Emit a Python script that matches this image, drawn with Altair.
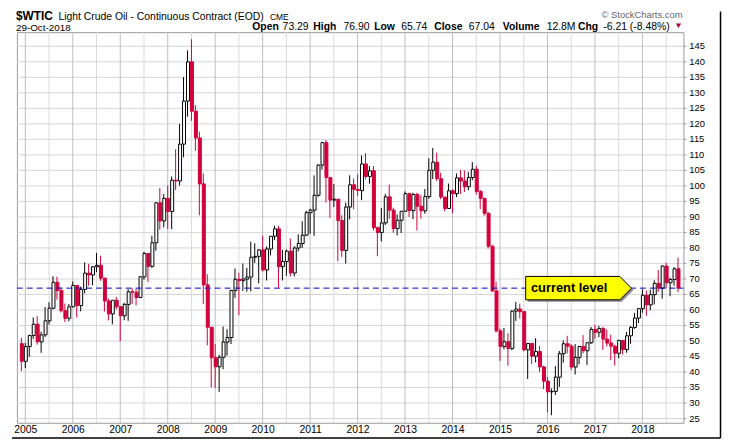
import altair as alt
import pandas as pd

# ---------------- data ----------------
months = [p.strftime("%Y-%m") for p in pd.period_range("2004-12", "2018-10", freq="M")]

opens = [
    49.13,
    43.45, 48.20, 51.75, 55.40, 49.72, 51.97, 56.50, 60.57, 68.94, 66.24, 59.76, 57.32,
    61.04, 67.92, 61.41, 66.63, 71.88, 71.29, 73.93, 74.40, 70.26, 62.91, 58.73, 63.13,
    61.05, 58.14, 61.79, 65.87, 65.71, 64.01, 70.68, 78.21, 74.04, 81.66, 94.53, 88.71,
    95.98, 91.75, 101.84, 101.58, 113.46, 127.35, 140.00, 124.08, 115.46, 100.64, 68.10, 54.43,
    44.60, 41.68, 44.76, 49.66, 51.12, 66.31, 69.89, 69.45, 69.96, 70.61, 77.00, 77.28,
    79.36, 72.89, 79.66, 83.76, 86.15, 73.97, 75.63, 78.95, 71.92, 79.97, 81.43, 84.11,
    91.38, 92.19, 96.97, 106.72, 113.93, 102.70, 95.42, 95.70, 88.81, 79.20, 93.19, 100.36,
    98.83, 98.48, 107.07, 103.02, 104.87, 86.53, 84.96, 88.06, 96.47, 92.19, 86.24, 88.91,
    91.82, 97.49, 92.05, 97.23, 93.46, 91.97, 96.56, 105.03, 107.65, 102.33, 96.38, 92.72,
    98.42, 97.49, 102.59, 101.58, 99.74, 102.71, 105.37, 98.17, 95.96, 91.16, 80.54, 66.15,
    53.27, 48.24, 49.76, 47.60, 59.63, 60.30, 59.47, 47.12, 49.20, 45.09, 46.59, 41.65,
    37.04, 33.62, 33.75, 38.34, 45.92, 49.10, 48.33, 41.60, 44.70, 48.24, 46.86, 49.44,
    53.72, 52.81, 54.01, 50.60, 49.33, 48.32, 46.04, 50.17, 47.23, 51.67, 54.38, 57.40,
    60.42, 64.73, 61.64, 64.94, 68.57, 67.04, 74.15, 68.76, 69.80, 73.29,
]
highs = [
    51.00,
    49.40, 52.05, 57.60, 58.00, 53.00, 60.95, 62.50, 70.85, 70.70, 67.30, 62.05, 61.90,
    69.20, 68.00, 67.50, 75.35, 74.85, 74.10, 78.40, 77.50, 70.40, 63.70, 62.00, 64.20,
    61.10, 62.30, 66.70, 67.00, 66.80, 70.90, 78.77, 78.40, 83.90, 94.74, 99.29, 97.40,
    100.09, 103.05, 111.80, 119.93, 135.09, 143.67, 147.27, 126.00, 117.50, 104.00, 71.50, 54.50,
    49.00, 45.50, 54.66, 53.80, 66.45, 73.38, 72.00, 75.00, 73.60, 82.00, 81.50, 79.60,
    83.95, 80.50, 83.85, 87.15, 87.10, 79.40, 79.50, 83.00, 80.50, 84.40, 88.60, 92.00,
    92.60, 103.40, 106.95, 114.20, 114.80, 102.20, 100.60, 95.90, 90.50, 94.65, 103.40, 102.40,
    103.70, 109.80, 110.55, 106.40, 106.40, 86.90, 92.90, 97.40, 100.40, 93.00, 90.80, 91.90,
    98.24, 97.80, 97.80, 97.80, 97.00, 99.00, 108.90, 112.20, 110.70, 104.20, 96.50, 100.75,
    98.90, 104.00, 105.20, 104.99, 104.50, 107.68, 106.50, 98.70, 96.20, 91.50, 81.00, 69.10,
    54.00, 54.20, 52.50, 59.90, 62.60, 62.00, 59.70, 49.30, 49.30, 50.90, 48.40, 42.00,
    38.40, 34.70, 41.90, 46.80, 50.20, 51.67, 49.00, 49.00, 48.30, 51.90, 49.20, 54.50,
    55.25, 54.90, 54.50, 53.70, 52.00, 48.80, 50.40, 50.20, 52.90, 54.80, 59.05, 60.50,
    66.66, 66.30, 66.50, 69.56, 72.90, 74.46, 75.27, 70.40, 73.80, 76.90,
]
lows = [
    40.25,
    41.25, 44.90, 50.70, 48.80, 46.20, 51.30, 55.30, 60.20, 63.30, 59.20, 56.10, 56.40,
    60.80, 57.55, 59.55, 65.35, 67.80, 68.00, 72.20, 69.40, 59.50, 56.60, 55.35, 60.20,
    49.90, 56.70, 56.50, 61.90, 61.50, 63.90, 69.80, 69.00, 73.60, 79.10, 85.90, 86.60,
    86.10, 86.10, 98.65, 100.10, 109.20, 122.30, 121.00, 111.30, 90.50, 62.00, 48.60, 35.10,
    34.90, 33.60, 40.90, 45.30, 49.00, 63.90, 58.30, 66.10, 65.90, 66.00, 75.20, 68.60,
    72.40, 69.50, 77.60, 82.50, 67.20, 69.50, 71.00, 70.75, 70.80, 78.90, 80.00, 83.80,
    84.60, 83.90, 96.50, 105.30, 94.60, 89.70, 93.20, 75.70, 77.10, 75.00, 89.20, 92.50,
    96.80, 95.40, 102.10, 100.70, 85.60, 77.30, 82.10, 87.40, 89.40, 84.90, 84.05, 84.80,
    91.80, 90.00, 89.30, 85.60, 89.50, 91.00, 95.90, 102.20, 101.60, 95.70, 91.80, 92.60,
    91.20, 96.40, 97.40, 98.00, 98.60, 101.80, 97.20, 92.50, 90.40, 79.80, 65.70, 52.70,
    43.60, 47.30, 42.03, 47.05, 56.50, 57.30, 46.70, 37.75, 42.60, 43.10, 40.00, 34.50,
    27.00, 26.05, 32.60, 35.20, 43.00, 46.00, 40.60, 39.20, 42.50, 46.00, 42.20, 49.00,
    50.70, 51.20, 47.10, 48.20, 43.80, 42.05, 44.40, 45.60, 46.20, 49.10, 53.90, 55.80,
    59.10, 58.10, 59.90, 61.80, 65.80, 63.60, 67.00, 64.40, 67.80, 65.74,
]
closes = [
    43.45,
    48.20, 51.75, 55.40, 49.72, 51.97, 56.50, 60.57, 68.94, 66.24, 59.76, 57.32, 61.04,
    67.92, 61.41, 66.63, 71.88, 71.29, 73.93, 74.40, 70.26, 62.91, 58.73, 63.13, 61.05,
    58.14, 61.79, 65.87, 65.71, 64.01, 70.68, 78.21, 74.04, 81.66, 94.53, 88.71, 95.98,
    91.75, 101.84, 101.58, 113.46, 127.35, 140.00, 124.08, 115.46, 100.64, 68.10, 54.43, 44.60,
    41.68, 44.76, 49.66, 51.12, 66.31, 69.89, 69.45, 69.96, 70.61, 77.00, 77.28, 79.36,
    72.89, 79.66, 83.76, 86.15, 73.97, 75.63, 78.95, 71.92, 79.97, 81.43, 84.11, 91.38,
    92.19, 96.97, 106.72, 113.93, 102.70, 95.42, 95.70, 88.81, 79.20, 93.19, 100.36, 98.83,
    98.48, 107.07, 103.02, 104.87, 86.53, 84.96, 88.06, 96.47, 92.19, 86.24, 88.91, 91.82,
    97.49, 92.05, 97.23, 93.46, 91.97, 96.56, 105.03, 107.65, 102.33, 96.38, 92.72, 98.42,
    97.49, 102.59, 101.58, 99.74, 102.71, 105.37, 98.17, 95.96, 91.16, 80.54, 66.15, 53.27,
    48.24, 49.76, 47.60, 59.63, 60.30, 59.47, 47.12, 49.20, 45.09, 46.59, 41.65, 37.04,
    33.62, 33.75, 38.34, 45.92, 49.10, 48.33, 41.60, 44.70, 48.24, 46.86, 49.44, 53.72,
    52.81, 54.01, 50.60, 49.33, 48.32, 46.04, 50.17, 47.23, 51.67, 54.38, 57.40, 60.42,
    64.73, 61.64, 64.94, 68.57, 67.04, 74.15, 68.76, 69.80, 73.25, 67.04,
]

years = list(range(2005, 2019))
y_ticks = list(range(25, 150, 5))
y_tick_labels = [str(v) for v in y_ticks]
current_level = 67.04
header_labels = ["Open", "High", "Low", "Close", "Volume", "Chg"]
header_values = ["73.29", "76.90", "65.74", "67.04", "12.8M", "-6.21 (-8.48%)"]
title_symbol = "$WTIC"
title_name = "Light Crude Oil - Continuous Contract (EOD)"
title_exchange = "CME"
title_date = "29-Oct-2018"
callout_text = "current level"

# ---------------- styling ----------------
RED = "#d2003c"
FONT = "Liberation Sans"
W, H = 674, 395

df = pd.DataFrame({"month": months, "open": opens, "high": highs, "low": lows, "close": closes})
df["i"] = range(len(df))
df["i0"] = df["i"] - 0.375
df["i1"] = df["i"] + 0.375
df["dir"] = ["down" if c < o else "up" for o, c in zip(opens, closes)]

xs = alt.Scale(domain=[-1.25, 167.25], nice=False, zero=False)
ys = alt.Scale(domain=[23.63, 149.56], nice=False, zero=False)
stroke_scale = alt.Scale(domain=["up", "down"], range=["#000000", RED])
fill_scale = alt.Scale(domain=["up", "down"], range=["#ffffff", RED])

year_idx = [(y - 2005) * 12 + 1 for y in years]
half_idx = [i + 6 for i in year_idx]

ydf = pd.DataFrame({"v": [float(v) for v in y_ticks], "lab": y_tick_labels})

hgrid = alt.Chart(ydf).mark_rule(color="#d6d6d6", strokeWidth=1).encode(
    y=alt.Y("v:Q", scale=ys, axis=None), x=alt.value(0), x2=alt.value(W))
yticks = alt.Chart(ydf).mark_rule(color="#999999", strokeWidth=1).encode(
    y=alt.Y("v:Q", scale=ys, axis=None), x=alt.value(W), x2=alt.value(W + 3))
ylabels = alt.Chart(ydf).mark_text(font=FONT, fontSize=9.5, color="#000000", align="left",
                                   baseline="middle").encode(
    y=alt.Y("v:Q", scale=ys, axis=None), x=alt.value(W + 6), text="lab:N")

vgrid_half = alt.Chart(pd.DataFrame({"i": [float(v) for v in half_idx]})).mark_rule(
    color="#dadada", strokeWidth=1, xOffset=-0.5
).encode(x=alt.X("i:Q", scale=xs, axis=None), y=alt.value(0), y2=alt.value(H))
vgrid_year = alt.Chart(pd.DataFrame({"i": [float(v) for v in year_idx]})).mark_rule(
    color="#bdbdbd", strokeWidth=1, xOffset=-0.5
).encode(x=alt.X("i:Q", scale=xs, axis=None), y=alt.value(0), y2=alt.value(H))

wicks = alt.Chart(df).mark_rule(strokeWidth=1, xOffset=-0.5).encode(
    x=alt.X("i:Q", scale=xs, axis=None),
    y=alt.Y("low:Q", scale=ys, axis=None),
    y2="high:Q",
    stroke=alt.Stroke("dir:N", scale=stroke_scale, legend=None),
)
bodies = alt.Chart(df).mark_rect(strokeWidth=1).encode(
    x=alt.X("i0:Q", scale=xs, axis=None),
    x2="i1:Q",
    y=alt.Y("open:Q", scale=ys, axis=None),
    y2="close:Q",
    fill=alt.Fill("dir:N", scale=fill_scale, legend=None),
    stroke=alt.Stroke("dir:N", scale=stroke_scale, legend=None),
)

level = alt.Chart(pd.DataFrame({"v": [current_level]})).mark_rule(
    color="#0000cc", strokeWidth=1, strokeDash=[6, 4]
).encode(y=alt.Y("v:Q", scale=ys, axis=None), x=alt.value(0), x2=alt.value(W))

# callout (pentagon pointing right)
callout_path = "M -1 -0.2215 L 0.779 -0.2215 L 1 0 L 0.779 0.2215 L -1 0.2215 Z"
cdf = pd.DataFrame({"i": [140.75], "v": [current_level], "t": [callout_text], "ti": [128.7]})
shadow = alt.Chart(cdf).mark_point(shape=callout_path, size=11449, filled=True, fill="#8a8a8a",
                                   strokeWidth=0, opacity=1, xOffset=2, yOffset=2).encode(
    x=alt.X("i:Q", scale=xs, axis=None), y=alt.Y("v:Q", scale=ys, axis=None))
callout = alt.Chart(cdf).mark_point(shape=callout_path, size=11449, filled=True, fill="#ffff00",
                                    stroke="#000000", strokeWidth=1, opacity=1).encode(
    x=alt.X("i:Q", scale=xs, axis=None), y=alt.Y("v:Q", scale=ys, axis=None))
callout_lbl = alt.Chart(cdf).mark_text(font=FONT, fontSize=13, fontWeight="bold", color="#000000",
                                       align="left", baseline="middle").encode(
    x=alt.X("ti:Q", scale=xs, axis=None), y=alt.Y("v:Q", scale=ys, axis=None), text="t:N")

year_lbl = alt.Chart(pd.DataFrame({"i": year_idx, "year": [str(y) for y in years]})).mark_text(
    font=FONT, fontSize=10.5, color="#000000", align="center", baseline="middle"
).encode(x=alt.X("i:Q", scale=xs, axis=None), y=alt.value(402.3), text="year:N")

one = pd.DataFrame({"a": [0]})


def txt(s, x, y, size, bold=False, color="#000000", align="left"):
    return alt.Chart(one).mark_text(font=FONT, fontSize=size, fontWeight="bold" if bold else "normal",
                                    color=color, align=align, baseline="alphabetic").encode(
        x=alt.value(x), y=alt.value(y), text=alt.value(s))


label_x = [238, 299.7, 361.3, 422, 491.3, 567.3]
value_x = [268.7, 330.3, 388.7, 457, 535.7, 593]
headers = [
    txt(title_symbol, -1, -12, 12, bold=True),
    txt(title_name, 42, -12.6, 10.5),
    txt(title_exchange, 256, -12.6, 8.5),
    txt(title_date, -1, -1.2, 10),
    txt("\u00a9 StockCharts.com", 673, -14, 9.5, color="#666666", align="right"),
]
for lab, lx in zip(header_labels, label_x):
    headers.append(txt(lab, lx, -2.1, 10.5, bold=True))
for val, vx in zip(header_values, value_x):
    headers.append(txt(val, vx, -2.1, 10.5))

tri = alt.Chart(one).mark_point(shape="triangle-down", filled=True, color="#a0003a", size=28, opacity=1).encode(
    x=alt.value(669), y=alt.value(-6.5))

# outer frame (right and bottom edges of the picture)
border_r = alt.Chart(one).mark_rule(color="#000000", strokeWidth=1.5).encode(
    x=alt.value(711.5), y=alt.value(-21), y2=alt.value(410.5))
border_b = alt.Chart(one).mark_rule(color="#000000", strokeWidth=1.5).encode(
    x=alt.value(-5), x2=alt.value(711.5), y=alt.value(410.5))

# invisible anchor fixing the top-left of the drawing bounds
anchor = alt.Chart(one).mark_rule(strokeOpacity=0, strokeWidth=0.01).encode(
    x=alt.value(-6), x2=alt.value(-5), y=alt.value(-22))

chart = alt.layer(
    hgrid, vgrid_half, vgrid_year, yticks, wicks, bodies, level, shadow, callout, callout_lbl,
    ylabels, year_lbl, *headers, tri, border_r, border_b, anchor
).properties(
    width=W, height=H,
    padding={"left": 3, "top": 0, "right": 0, "bottom": 0},
).configure_view(stroke="#9a9a9a", strokeWidth=1)

chart.save("out.html", embed_options={"renderer": "svg", "actions": False})
